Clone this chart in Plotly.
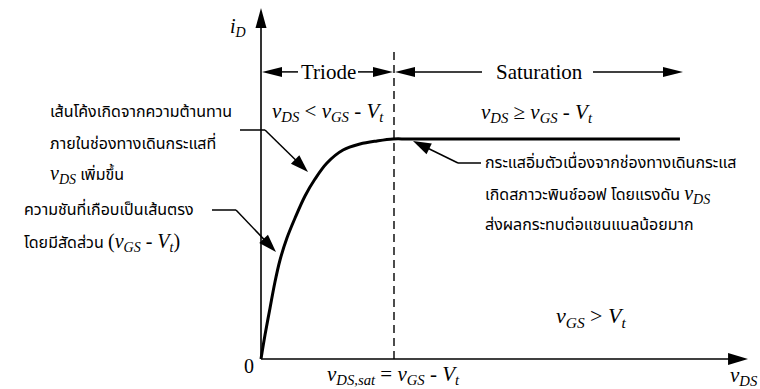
import plotly.graph_objects as go

W, H = 760, 389

# MOSFET output characteristic, normalised: v_DS in units of v_DS,sat, i_D in units of the saturation current
v_ds = [0.0, 0.030, 0.068, 0.105, 0.143, 0.195, 0.256, 0.331, 0.406, 0.496, 0.617, 0.744, 0.872, 0.992, 1.12, 3.15]
i_d = [0.0, 0.109, 0.232, 0.350, 0.450, 0.550, 0.641, 0.741, 0.818, 0.891, 0.950, 0.977, 0.991, 1.0, 1.0, 1.0]

v_sat = 1.0                 # v_DS,sat = v_GS - V_t
v_axis_end = 3.662          # extent of the v_DS axis
i_axis_end = 1.595          # extent of the i_D axis
i_region_arrows = 1.305     # height of the Triode / Saturation arrows
i_dash_top = 1.405          # top of the v_DS,sat boundary
saturation_end = 3.173

# linear mapping between data units and pixels (origin and scale)
X0, Y0 = 261.0, 359.0
SX, SY = 133.0, 220.0
x_range = [-X0 / SX, (W - X0) / SX]
y_range = [-(H - Y0) / SY, Y0 / SY]


def to_px(v, i):
    return X0 + SX * v, Y0 - SY * i


def paper(px, py):
    return px / W, 1 - py / H


SERIF = "Liberation Serif, serif"
THAI = "Noto Sans Thai, Loma, Garuda, Tahoma, sans-serif"
SERIF_SPAN = '<span style="font-family:Liberation Serif, serif;font-size:20px">'

fig = go.Figure()
fig.add_trace(go.Scatter(
    x=v_ds, y=i_d, mode="lines",
    line=dict(color="black", width=3, shape="spline", smoothing=1.0),
    hoverinfo="skip", showlegend=False,
))

shapes = []
annotations = []


def line_px(p0, p1, width=1.5, dash=None):
    x0, y0 = paper(*p0)
    x1, y1 = paper(*p1)
    shapes.append(dict(type="line", xref="paper", yref="paper", x0=x0, y0=y0, x1=x1, y1=y1,
                       line=dict(color="black", width=width, dash=dash)))


def head(tip, frm, length=18, half=5.5):
    tx, ty = tip
    dx, dy = tx - frm[0], ty - frm[1]
    n = (dx * dx + dy * dy) ** 0.5
    ux, uy = dx / n, dy / n
    bx, by = tx - ux * length, ty - uy * length
    pts = [(tx, ty), (bx - uy * half, by + ux * half), (bx + uy * half, by - ux * half)]
    pp = [paper(*p) for p in pts]
    path = "M{:.5f},{:.5f} L{:.5f},{:.5f} L{:.5f},{:.5f} Z".format(*[c for p in pp for c in p])
    shapes.append(dict(type="path", xref="paper", yref="paper", path=path,
                       fillcolor="black", line=dict(width=0)))
    return bx, by


def arrow(frm, tip, width=1.5, length=18, half=5.5):
    bx, by = head(tip, frm, length, half)
    line_px(frm, (bx + (tip[0] - bx) * 0.3, by + (tip[1] - by) * 0.3), width)


def text(px, py, s, size, family=SERIF, xanchor="center"):
    x, y = paper(px, py)
    annotations.append(dict(xref="paper", yref="paper", x=x, y=y, text=s, showarrow=False,
                            xanchor=xanchor, yanchor="middle",
                            font=dict(family=family, size=size, color="black")))


o = to_px(0, 0)
# axes with arrowheads
arrow(o, to_px(0, i_axis_end), width=1.6, length=20, half=5.5)
arrow(o, to_px(v_axis_end, 0), width=1.6, length=20, half=6)

# v_DS,sat boundary
line_px(to_px(v_sat, 0), to_px(v_sat, i_dash_top), width=1.4, dash="8px,5px")

# region arrows
tl, tr = to_px(0, i_region_arrows), to_px(v_sat, i_region_arrows)
sl, sr = to_px(v_sat, i_region_arrows), to_px(saturation_end, i_region_arrows)
arrow((298, tl[1]), (tl[0] + 1, tl[1]), length=20, half=5)
arrow((358, tr[1]), (tr[0] - 1, tr[1]), length=20, half=5)
arrow((482, sl[1]), (sl[0] + 1, sl[1]), length=20, half=5)
arrow((593, sr[1]), sr, length=20, half=5)
text(328, tl[1], "Triode", 21)
text(539, sl[1], "Saturation", 21)


def v(sub, base="v"):
    return "<i>{}</i><sub><i>{}</i></sub>".format(base, sub)


text(328, 112, v("DS") + " &lt; " + v("GS") + " - " + v("t", "V"), 21)
text(537, 113, v("DS") + " ≥ " + v("GS") + " - " + v("t", "V"), 21)
text(591, 317, v("GS") + " &gt; " + v("t", "V"), 22)
xs, _ = to_px(v_sat, 0)
text(xs, 375, v("DS,sat") + " = " + v("GS") + " - " + v("t", "V"), 21)
text(760, 376, v("DS"), 21, xanchor="right")
text(249, 366, "0", 20)
text(238, 27, v("D", "i"), 20)

# explanatory notes with leaders
line_px((240, 130), (265, 130))
arrow((265, 130), (308, 172), length=18, half=6)
text(48, 112, "เส้นโค้งเกิดจากความต้านทาน", 16, THAI, "left")
text(48, 144, "ภายในช่องทางเดินกระแสที่", 16, THAI, "left")
text(48, 174, SERIF_SPAN + v("DS") + "</span> เพิ่มขึ้น", 16, THAI, "left")

line_px((212, 210), (236, 210))
arrow((236, 210), (276, 252), length=18, half=6)
text(22, 210, "ความชันที่เกือบเป็นเส้นตรง", 16, THAI, "left")
text(22, 242, "โดยมีสัดส่วน " + SERIF_SPAN + "(" + v("GS") + " - " + v("t", "V") + ")</span>", 16, THAI, "left")

line_px((481, 163), (458, 163))
arrow((458, 163), (413, 141), length=18, half=6)
text(483, 163, "กระแสอิ่มตัวเนื่องจากช่องทางเดินกระแส", 16, THAI, "left")
text(483, 194, "เกิดสภาวะพินช์ออฟ โดยแรงดัน " + SERIF_SPAN + v("DS") + "</span>", 16, THAI, "left")
text(483, 225, "ส่งผลกระทบต่อแชนแนลน้อยมาก", 16, THAI, "left")

fig.update_layout(
    width=W, height=H, autosize=False,
    margin=dict(l=0, r=0, t=0, b=0),
    paper_bgcolor="white", plot_bgcolor="white",
    xaxis=dict(range=x_range, visible=False, fixedrange=True),
    yaxis=dict(range=y_range, visible=False, fixedrange=True),
    shapes=shapes, annotations=annotations, showlegend=False,
)

fig.write_html("out.html", config={"displayModeBar": False})
